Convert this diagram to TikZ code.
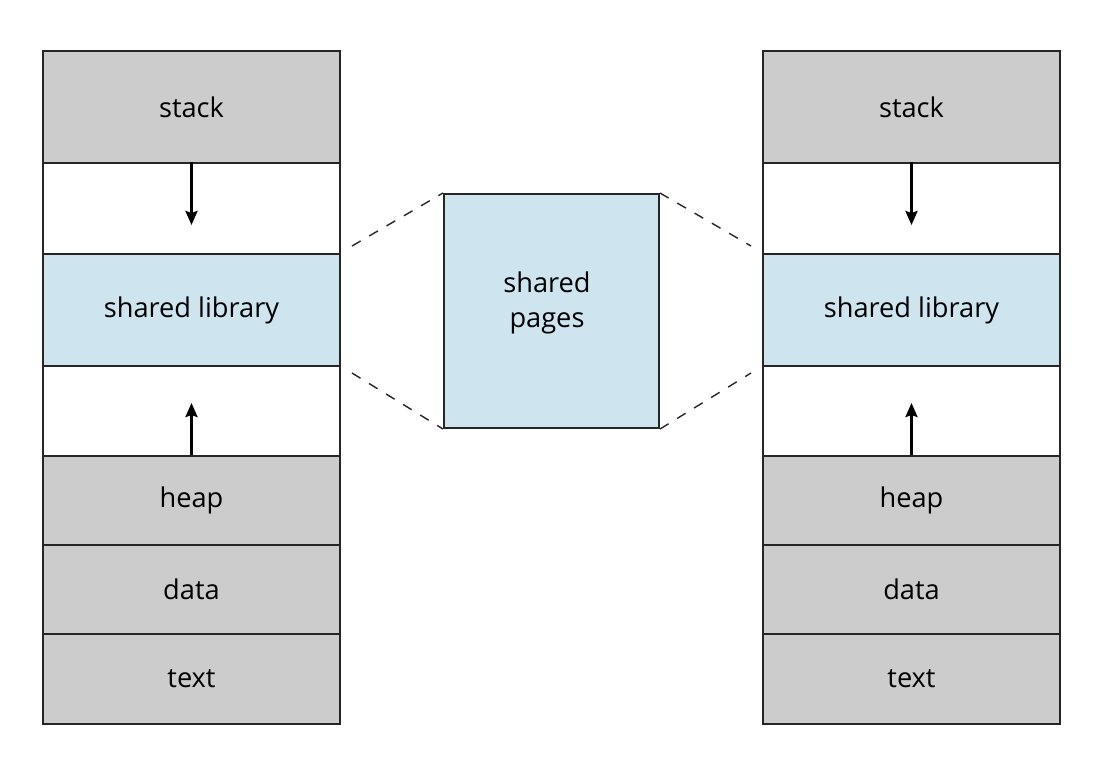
\documentclass[tikz,border=0pt]{standalone}
\usepackage{fontspec}
\setmainfont{Open Sans}
\usetikzlibrary{arrows.meta}

\definecolor{segGrey}{RGB}{204,204,204}
\definecolor{segBlue}{RGB}{206,228,238}

\tikzset{
	seg/.style={draw=black!85, line width=1pt, inner sep=0pt, minimum width=148.5pt,
		font=\fontsize{13.6}{17.5}\selectfont, text=black},
	grey/.style={seg, fill=segGrey},
	blue/.style={seg, fill=segBlue},
	free/.style={seg, fill=white},
	growarrow/.style={line width=1.4pt, -{Stealth[length=7pt, width=6pt, inset=1pt]}},
	link/.style={line width=0.7pt, dash pattern=on 5pt off 5pt, black!85}
}

\begin{document}
\begin{tikzpicture}[x=0.5pt, y=-0.5pt]

		\useasboundingbox (0,0) rectangle (1096,762);

		% Left process
		\node[grey, minimum height=56pt] (lstack) at (191.5,107) {stack};
		\node[free, minimum height=45.5pt] (lfree1) at (191.5,208.5) {};
		\node[blue, minimum height=56pt] (lshared) at (191.5,310) {shared library};
		\node[free, minimum height=45pt] (lfree2) at (191.5,411) {};
		\node[grey, minimum height=44.5pt] (lheap) at (191.5,500.5) {heap};
		\node[grey, minimum height=44.5pt] (ldata) at (191.5,589.5) {data};
		\node[grey, minimum height=45pt] (ltext) at (191.5,679) {text};

		% Right process
		\node[grey, minimum height=56pt] (rstack) at (911.5,107) {stack};
		\node[free, minimum height=45.5pt] (rfree1) at (911.5,208.5) {};
		\node[blue, minimum height=56pt] (rshared) at (911.5,310) {shared library};
		\node[free, minimum height=45pt] (rfree2) at (911.5,411) {};
		\node[grey, minimum height=44.5pt] (rheap) at (911.5,500.5) {heap};
		\node[grey, minimum height=44.5pt] (rdata) at (911.5,589.5) {data};
		\node[grey, minimum height=45pt] (rtext) at (911.5,679) {text};

		% Physical memory
		\node[blue, minimum width=107.5pt, minimum height=117pt] (pages) at (551.5,311) {};
		\node[font=\fontsize{13.6}{17.5}\selectfont, align=center] (pageslbl) at (547,303) {shared\\pages};

		% Growth arrows
		\draw[growarrow] (lfree1.north) -- ++(0,63);
		\draw[growarrow] (lheap.north) -- ++(0,-52);
		\draw[growarrow] (rfree1.north) -- ++(0,63);
		\draw[growarrow] (rheap.north) -- ++(0,-52);

		% Mapping lines
		\coordinate (lup) at (352,246);
		\coordinate (llow) at (352,373);
		\coordinate (rup) at (751,246);
		\coordinate (rlow) at (751,373);
		\draw[link] (lup) -- (pages.north west);
		\draw[link] (llow) -- (pages.south west);
		\draw[link] (pages.north east) -- (rup);
		\draw[link] (pages.south east) -- (rlow);

	\end{tikzpicture}
\end{document}
